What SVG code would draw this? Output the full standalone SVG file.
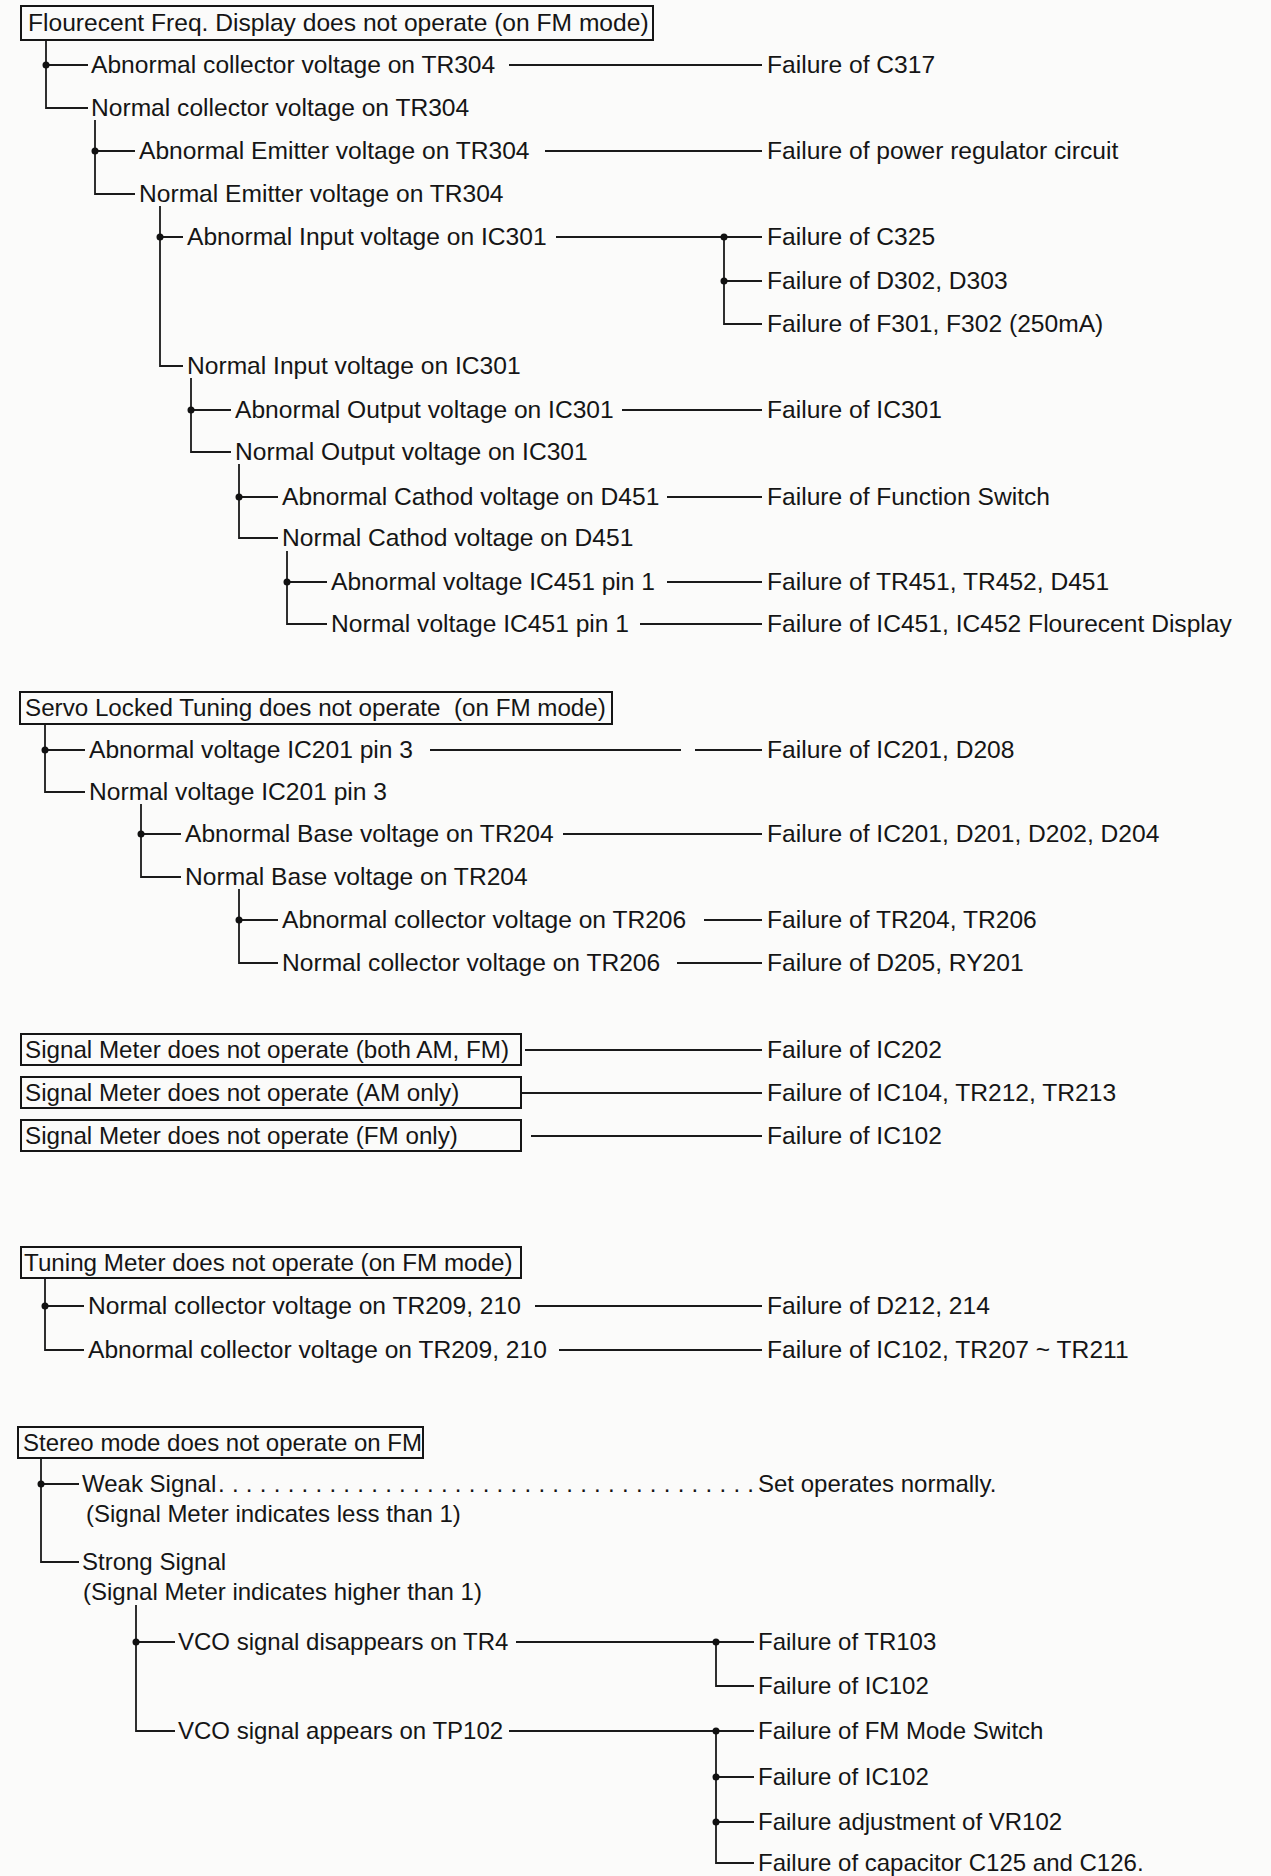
<svg xmlns="http://www.w3.org/2000/svg" width="1271" height="1876" viewBox="0 0 1271 1876">
<style>
.t{font-family:"Liberation Sans",Arial,Helvetica,sans-serif;font-size:24.6px;fill:#151515}
.b{font-family:"Liberation Sans",Arial,Helvetica,sans-serif;font-size:24.2px;fill:#151515}
.s{font-family:"Liberation Sans",Arial,Helvetica,sans-serif;font-size:24px;fill:#151515}
.box{fill:none;stroke:#151515;stroke-width:2}
.c{fill:none;stroke:#1a1a1a;stroke-width:1.8}
.d{fill:#111}
</style>
<rect x="0" y="0" width="1271" height="1876" fill="#fbfbfa"/>

<g id="connectors">
  <!-- Section 1 -->
  <path class="c" d="M46 40V108H88M46 65H88"/>
  <path class="c" d="M509 65H762"/>
  <path class="c" d="M95 120V194H135M95 151H135"/>
  <path class="c" d="M545 151H762"/>
  <path class="c" d="M160 206V366H183M160 237H183"/>
  <path class="c" d="M556 237H762M724 237V324H762M724 281H762"/>
  <path class="c" d="M191 378V452H231M191 410H231"/>
  <path class="c" d="M622 410H762"/>
  <path class="c" d="M239 464V538H278M239 497H278"/>
  <path class="c" d="M667 497H762"/>
  <path class="c" d="M287 551V624H327M287 582H327"/>
  <path class="c" d="M667 582H762M640 624H762"/>
  <circle class="d" cx="46" cy="65" r="3.5"/>
  <circle class="d" cx="95" cy="151" r="3.5"/>
  <circle class="d" cx="160" cy="237" r="3.5"/>
  <circle class="d" cx="724" cy="237" r="3.5"/>
  <circle class="d" cx="724" cy="281" r="3.5"/>
  <circle class="d" cx="191" cy="410" r="3.5"/>
  <circle class="d" cx="239" cy="497" r="3.5"/>
  <circle class="d" cx="287" cy="582" r="3.5"/>
  <!-- Section 2 -->
  <path class="c" d="M45 724V792H85M45 750H85"/>
  <path class="c" d="M430 750H681M695 750H762"/>
  <path class="c" d="M141 804V877H181M141 834H181"/>
  <path class="c" d="M563 834H762"/>
  <path class="c" d="M239 889V963H278M239 920H278"/>
  <path class="c" d="M704 920H762M677 963H762"/>
  <circle class="d" cx="45" cy="750" r="3.5"/>
  <circle class="d" cx="141" cy="834" r="3.5"/>
  <circle class="d" cx="239" cy="920" r="3.5"/>
  <!-- Section 3 -->
  <path class="c" d="M525 1050H762M521 1093H762M531 1136H762"/>
  <!-- Section 4 -->
  <path class="c" d="M45 1278V1350H84M45 1306H84"/>
  <path class="c" d="M535 1306H762M559 1350H762"/>
  <circle class="d" cx="45" cy="1306" r="3.5"/>
  <!-- Section 5 -->
  <path class="c" d="M41 1458V1562H79M41 1484H79"/>
  <path class="c" d="M136 1605V1731H175M136 1642H175"/>
  <path class="c" d="M516 1642H716M716 1642V1686H754M716 1642H754"/>
  <path class="c" d="M509 1731H716M716 1731V1863H754M716 1731H754M716 1777H754M716 1822H754"/>
  <circle class="d" cx="41" cy="1484" r="3.5"/>
  <circle class="d" cx="136" cy="1642" r="3.5"/>
  <circle class="d" cx="716" cy="1642" r="3.5"/>
  <circle class="d" cx="716" cy="1731" r="3.5"/>
  <circle class="d" cx="716" cy="1777" r="3.5"/>
  <circle class="d" cx="716" cy="1822" r="3.5"/>
</g>

<!-- Section 1 -->
<g id="s1-root"><rect class="box" x="21" y="6" width="632" height="34"/><text class="t" x="28" y="31">Flourecent Freq. Display does not operate (on FM mode)</text></g>
<g id="s1-abn-coll"><text class="t" x="91" y="73">Abnormal collector voltage on TR304</text></g>
<g id="s1-f-c317"><text class="t" x="767" y="73">Failure of C317</text></g>
<g id="s1-nor-coll"><text class="t" x="91" y="116">Normal collector voltage on TR304</text></g>
<g id="s1-abn-emit"><text class="t" x="139" y="159">Abnormal Emitter voltage on TR304</text></g>
<g id="s1-f-reg"><text class="t" x="767" y="159">Failure of power regulator circuit</text></g>
<g id="s1-nor-emit"><text class="t" x="139" y="202">Normal Emitter voltage on TR304</text></g>
<g id="s1-abn-in"><text class="t" x="187" y="245">Abnormal Input voltage on IC301</text></g>
<g id="s1-f-c325"><text class="t" x="767" y="245">Failure of C325</text></g>
<g id="s1-f-d302"><text class="t" x="767" y="289">Failure of D302, D303</text></g>
<g id="s1-f-f301"><text class="t" x="767" y="332">Failure of F301, F302 (250mA)</text></g>
<g id="s1-nor-in"><text class="t" x="187" y="374">Normal Input voltage on IC301</text></g>
<g id="s1-abn-out"><text class="t" x="235" y="418">Abnormal Output voltage on IC301</text></g>
<g id="s1-f-ic301"><text class="t" x="767" y="418">Failure of IC301</text></g>
<g id="s1-nor-out"><text class="t" x="235" y="460">Normal Output voltage on IC301</text></g>
<g id="s1-abn-cath"><text class="t" x="282" y="505">Abnormal Cathod voltage on D451</text></g>
<g id="s1-f-func"><text class="t" x="767" y="505">Failure of Function Switch</text></g>
<g id="s1-nor-cath"><text class="t" x="282" y="546">Normal Cathod voltage on D451</text></g>
<g id="s1-abn-ic451"><text class="t" x="331" y="590">Abnormal voltage IC451 pin 1</text></g>
<g id="s1-f-tr451"><text class="t" x="767" y="590">Failure of TR451, TR452, D451</text></g>
<g id="s1-nor-ic451"><text class="t" x="331" y="632">Normal voltage IC451 pin 1</text></g>
<g id="s1-f-ic451"><text class="t" x="767" y="632">Failure of IC451, IC452 Flourecent Display</text></g>

<!-- Section 2 -->
<g id="s2-root"><rect class="box" x="20" y="692" width="592" height="32"/><text class="b" x="25" y="716" xml:space="preserve">Servo Locked Tuning does not operate  (on FM mode)</text></g>
<g id="s2-abn-ic201"><text class="t" x="89" y="758">Abnormal voltage IC201 pin 3</text></g>
<g id="s2-f-ic201"><text class="t" x="767" y="758">Failure of IC201, D208</text></g>
<g id="s2-nor-ic201"><text class="t" x="89" y="800">Normal voltage IC201 pin 3</text></g>
<g id="s2-abn-base"><text class="t" x="185" y="842">Abnormal Base voltage on TR204</text></g>
<g id="s2-f-d201"><text class="t" x="767" y="842">Failure of IC201, D201, D202, D204</text></g>
<g id="s2-nor-base"><text class="t" x="185" y="885">Normal Base voltage on TR204</text></g>
<g id="s2-abn-coll"><text class="t" x="282" y="928">Abnormal collector voltage on TR206</text></g>
<g id="s2-f-tr204"><text class="t" x="767" y="928">Failure of TR204, TR206</text></g>
<g id="s2-nor-coll"><text class="t" x="282" y="971">Normal collector voltage on TR206</text></g>
<g id="s2-f-d205"><text class="t" x="767" y="971">Failure of D205, RY201</text></g>

<!-- Section 3 -->
<g id="s3-both"><rect class="box" x="21" y="1034" width="500" height="31"/><text class="b" x="25" y="1058">Signal Meter does not operate (both AM, FM)</text></g>
<g id="s3-f-ic202"><text class="t" x="767" y="1058">Failure of IC202</text></g>
<g id="s3-am"><rect class="box" x="21" y="1077" width="500" height="31"/><text class="b" x="25" y="1101">Signal Meter does not operate (AM only)</text></g>
<g id="s3-f-ic104"><text class="t" x="767" y="1101">Failure of IC104, TR212, TR213</text></g>
<g id="s3-fm"><rect class="box" x="21" y="1120" width="500" height="31"/><text class="b" x="25" y="1144">Signal Meter does not operate (FM only)</text></g>
<g id="s3-f-ic102"><text class="t" x="767" y="1144">Failure of IC102</text></g>

<!-- Section 4 -->
<g id="s4-root"><rect class="box" x="21" y="1247" width="500" height="31"/><text class="b" x="24" y="1271">Tuning Meter does not operate (on FM mode)</text></g>
<g id="s4-nor"><text class="t" x="88" y="1314">Normal collector voltage on TR209, 210</text></g>
<g id="s4-f-d212"><text class="t" x="767" y="1314">Failure of D212, 214</text></g>
<g id="s4-abn"><text class="t" x="88" y="1358">Abnormal collector voltage on TR209, 210</text></g>
<g id="s4-f-ic102"><text class="t" x="767" y="1358">Failure of IC102, TR207 ~ TR211</text></g>

<!-- Section 5 -->
<g id="s5-root"><rect class="box" x="18" y="1427" width="405" height="31"/><text class="s" x="23" y="1451">Stereo mode does not operate on FM</text></g>
<g id="s5-weak"><text class="s" x="82" y="1492">Weak Signal</text><text class="s" x="86" y="1522">(Signal Meter indicates less than 1)</text></g>
<g id="s5-leader"><text class="s" x="218" y="1492" textLength="536" lengthAdjust="spacing">. . . . . . . . . . . . . . . . . . . . . . . . . . . . . . . . . . . . . . .</text></g>
<g id="s5-normal"><text class="s" x="758" y="1492">Set operates normally.</text></g>
<g id="s5-strong"><text class="s" x="82" y="1570">Strong Signal</text><text class="s" x="83" y="1600">(Signal Meter indicates higher than 1)</text></g>
<g id="s5-vco-dis"><text class="s" x="178" y="1650">VCO signal disappears on TR4</text></g>
<g id="s5-f-tr103"><text class="s" x="758" y="1650">Failure of TR103</text></g>
<g id="s5-f-ic102a"><text class="s" x="758" y="1694">Failure of IC102</text></g>
<g id="s5-vco-app"><text class="s" x="178" y="1739">VCO signal appears on TP102</text></g>
<g id="s5-f-fm"><text class="s" x="758" y="1739">Failure of FM Mode Switch</text></g>
<g id="s5-f-ic102b"><text class="s" x="758" y="1785">Failure of IC102</text></g>
<g id="s5-f-vr102"><text class="s" x="758" y="1830">Failure adjustment of VR102</text></g>
<g id="s5-f-cap"><text class="s" x="758" y="1871">Failure of capacitor C125 and C126.</text></g>
</svg>
